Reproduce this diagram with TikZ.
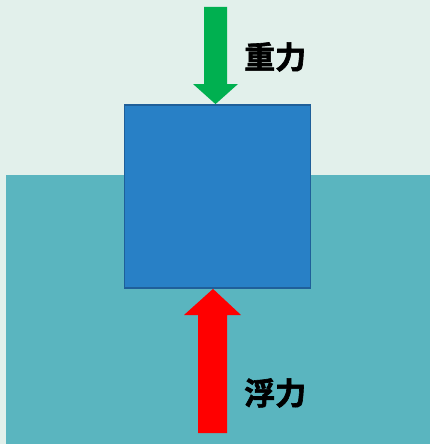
\documentclass[tikz,border=0pt]{standalone}
\usepackage{fontspec}
\newfontfamily\cjk{Noto Sans CJK SC}[BoldFont={* Bold}, BoldFeatures={FakeBold=2}]
\definecolor{airbg}{HTML}{E2F0EB}
\definecolor{water}{HTML}{5AB5BF}
\definecolor{blockfill}{HTML}{2880C6}
\definecolor{blockline}{HTML}{1F5F99}
\definecolor{gravgreen}{HTML}{00B050}
\definecolor{buoyred}{HTML}{FF0000}
\tikzset{
  forcelabel/.style={font=\cjk\bfseries\fontsize{31}{32}\selectfont, inner sep=0pt, anchor=west},
}
\begin{document}
\begin{tikzpicture}[x=1pt,y=-1pt]
\fill[airbg] (0,0) rectangle (430,444);
\useasboundingbox (0,0) rectangle (430,444);
\fill[water] (6,175) rectangle (430,444);
\node[draw=blockline, line width=1.8pt, fill=blockfill, minimum width=186pt, minimum height=183pt, inner sep=0pt] (block) at (217.5,196.5) {};
% gravity arrow
\fill[gravgreen] (204,7) -- (227,7) -- (227,84) -- (238,84) -- (block.north -| 215.5,0) -- (193,84) -- (204,84) -- cycle;
% buoyancy arrow
\fill[buoyred] (198,433) -- (227,433) -- (227,315) -- (241,315) -- (block.south -| 213,0) -- (184,315) -- (198,315) -- cycle;
\node[forcelabel] (grav) at (244,57) {重力};
\node[forcelabel] (buoy) at (244,393) {浮力};
\end{tikzpicture}
\end{document}
